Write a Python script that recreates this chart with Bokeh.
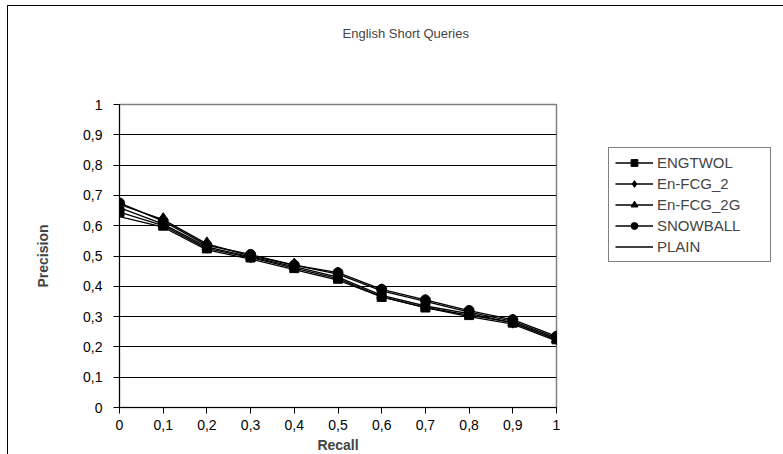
from bokeh.plotting import figure
from bokeh.models import FixedTicker, Legend, LegendItem, Title
from bokeh.embed import file_html
from bokeh.resources import INLINE

recall = [0.0, 0.1, 0.2, 0.3, 0.4, 0.5, 0.6, 0.7, 0.8, 0.9, 1.0]
engtwol = [0.645, 0.600, 0.525, 0.495, 0.460, 0.425, 0.365, 0.330, 0.305, 0.280, 0.225]
en_fcg_2 = [0.670, 0.620, 0.540, 0.500, 0.470, 0.440, 0.385, 0.350, 0.315, 0.285, 0.230]
en_fcg_2g = [0.660, 0.605, 0.530, 0.497, 0.465, 0.430, 0.370, 0.335, 0.310, 0.280, 0.225]
snowball = [0.675, 0.615, 0.535, 0.505, 0.470, 0.445, 0.390, 0.355, 0.320, 0.290, 0.235]
plain = [0.630, 0.595, 0.520, 0.490, 0.455, 0.420, 0.365, 0.330, 0.300, 0.275, 0.220]
tick_vals = [0.0, 0.1, 0.2, 0.3, 0.4, 0.5, 0.6, 0.7, 0.8, 0.9, 1.0]
tick_text = ["0", "0,1", "0,2", "0,3", "0,4", "0,5", "0,6", "0,7", "0,8", "0,9", "1"]

FONT = "Liberation Sans"

p = figure(frame_width=437, frame_height=303, output_backend="svg",
           toolbar_location=None, x_range=(0, 1), y_range=(0, 1),
           min_border_left=111, min_border_right=225, min_border_top=98,
           min_border_bottom=46, title=None)
p.styles = {"margin-left": "7px", "margin-top": "5px",
            "border-left": "1.5px solid #000", "border-top": "1.5px solid #000"}

# spacer nearest to the frame, then the real title above it
spacer = Title(text=" ", text_font=FONT, text_font_size="13px", standoff=30)
p.add_layout(spacer, "above")
t = Title(text="English Short Queries", align="left", offset=223,
          text_font=FONT, text_font_size="13px", text_font_style="normal",
          standoff=34)
p.add_layout(t, "above")

p.outline_line_color = "#808080"
p.outline_line_width = 1.5

for ax in (p.xaxis, p.yaxis):
    ax.ticker = FixedTicker(ticks=tick_vals)
    ax.major_label_overrides = {v: s for v, s in zip(tick_vals, tick_text)}
    ax.major_label_text_font = FONT
    ax.major_label_text_font_size = "14px"
    ax.major_label_text_color = "black"
    ax.axis_label_text_font = FONT
    ax.axis_label_text_font_size = "14px"
    ax.axis_label_text_font_style = "bold"
    ax.axis_line_color = "black"
    ax.major_tick_line_color = "black"
    ax.major_tick_out = 6
    ax.major_tick_in = 0
    ax.minor_tick_line_color = None

p.xaxis.axis_label = "Recall"
p.yaxis.axis_label = "Precision"
p.xaxis.major_label_standoff = 6
p.xaxis.axis_label_standoff = 4
p.yaxis.major_label_standoff = 11
p.yaxis.axis_label_standoff = 29
p.yaxis.major_label_orientation = "horizontal"

p.xgrid.grid_line_color = None
p.ygrid.grid_line_color = "black"
p.ygrid.grid_line_width = 1
p.ygrid.ticker = FixedTicker(ticks=tick_vals)

items = []
series = [
    ("ENGTWOL", engtwol, "square", 9),
    ("En-FCG_2", en_fcg_2, "diamond", 14),
    ("En-FCG_2G", en_fcg_2g, "triangle", 10),
    ("SNOWBALL", snowball, "circle", 10),
    ("PLAIN", plain, None, 0),
]
for name, vals, marker, size in series:
    r = [p.line(recall, vals, line_color="black", line_width=1.3)]
    if marker:
        r.append(p.scatter(recall, vals, marker=marker, size=size,
                           fill_color="black", line_color="black"))
    items.append(LegendItem(label=name, renderers=r))

legend = Legend(items=items, location=(52, 145), orientation="vertical",
                border_line_color="black", border_line_width=1,
                background_fill_color="white", background_fill_alpha=1,
                label_text_font=FONT, label_text_font_size="15px",
                glyph_width=38, glyph_height=17, label_height=17,
                spacing=4, padding=6,
                label_standoff=4, label_width=107, margin=0)
p.add_layout(legend, "right")

open("out.html", "w").write(file_html(p, INLINE))
